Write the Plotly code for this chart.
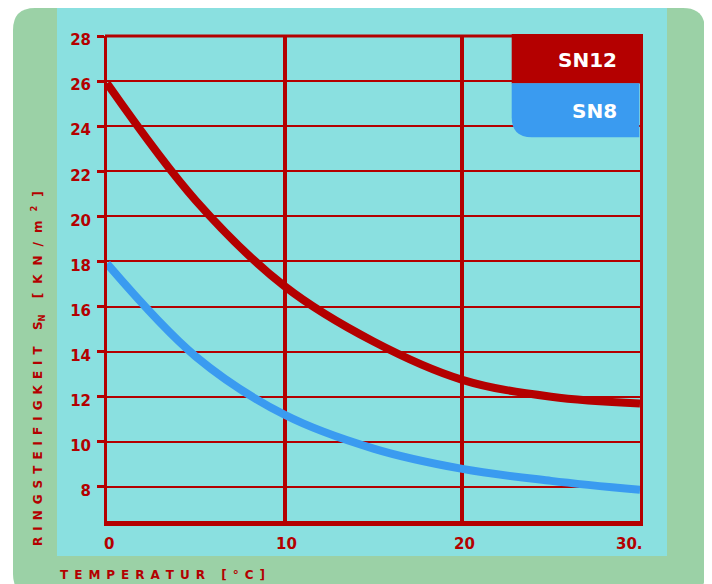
import plotly.graph_objects as go

# ---------------- data ----------------
temperature = [0, 5, 10, 15, 20, 25, 30]
sn12 = [25.9, 20.7, 16.9, 14.45, 12.75, 12.0, 11.7]
sn8 = [17.9, 13.78, 11.2, 9.7, 8.8, 8.27, 7.87]
series_names = ["SN12", "SN8"]
y_tick_vals = [8, 10, 12, 14, 16, 18, 20, 22, 24, 26, 28]
x_tick_vals = [0, 10, 20, 30]
x_tick_text = ["0", "10", "20", "30."]
x_title_text = "TEMPERATUR [°C]"
y_title_parts = ["RINGSTEIFIGKEIT", "S", "N", "[KN/m", "2", "]"]

# ---------------- styling ----------------
RED = "#B40000"
BLUE = "#3A9BF0"
GREEN = "#9BD1A6"
CYAN = "#8AE0E0"
FONT = "DejaVu Sans"

OFF = 8  # page offset of the figure inside the window
W, H = 704, 576
L, R, T, B = 99, 72, 28, 63
PW = W - L - R
PH = H - T - B


def px(x):
    """screen x pixel -> paper x"""
    return (x - OFF - L) / PW


def py(y):
    """screen y pixel -> paper y"""
    return (H - B - (y - OFF)) / PH


def rounded_path(x0, y0, x1, y1, r_tl=0, r_tr=0, r_br=0, r_bl=0):
    def p(x, y):
        return f"{px(x):.5f},{py(y):.5f}"
    d = f"M{p(x0 + r_tl, y0)} L{p(x1 - r_tr, y0)} "
    if r_tr:
        d += f"Q{p(x1, y0)} {p(x1, y0 + r_tr)} "
    d += f"L{p(x1, y1 - r_br)} "
    if r_br:
        d += f"Q{p(x1, y1)} {p(x1 - r_br, y1)} "
    d += f"L{p(x0 + r_bl, y1)} "
    if r_bl:
        d += f"Q{p(x0, y1)} {p(x0, y1 - r_bl)} "
    d += f"L{p(x0, y0 + r_tl)} "
    if r_tl:
        d += f"Q{p(x0, y0)} {p(x0 + r_tl, y0)} "
    return d + "Z"


sp = "\u2002"          # en space for letter spacing
sp_wide = "\u2002\u2005"  # wider letter spacing for the unit part


def spaced(s, gap=sp):
    return gap.join(s)


fig = go.Figure()
fig.add_trace(go.Scatter(x=temperature, y=sn12, mode="lines", name=series_names[0],
                         line=dict(color=RED, width=8, shape="spline", smoothing=1.0),
                         hoverinfo="x+y"))
fig.add_trace(go.Scatter(x=temperature, y=sn8, mode="lines", name=series_names[1],
                         line=dict(color=BLUE, width=8, shape="spline", smoothing=1.0),
                         hoverinfo="x+y"))

shapes = [
    # outer green rounded panel
    dict(type="path", xref="paper", yref="paper", layer="below",
         path=rounded_path(13, 8, 705, 596, 22, 22, 22, 22),
         fillcolor=GREEN, line=dict(width=0)),
    # cyan panel
    dict(type="rect", xref="paper", yref="paper", layer="below",
         x0=px(57), x1=px(667), y0=py(8), y1=py(556),
         fillcolor=CYAN, line=dict(width=0)),
    # top frame line
    dict(type="line", xref="paper", yref="paper", layer="above",
         x0=px(105), x1=px(643), y0=1, y1=1,
         line=dict(color=RED, width=3)),
    # legend boxes
    dict(type="rect", xref="paper", yref="paper", layer="above",
         x0=px(511.7), x1=px(643), y0=py(34), y1=py(83.5),
         fillcolor=RED, line=dict(width=0)),
    dict(type="path", xref="paper", yref="paper", layer="above",
         path=rounded_path(511.7, 83.3, 639.3, 137.3, 0, 0, 0, 20),
         fillcolor=BLUE, line=dict(width=0)),
]

annotations = []
# x tick labels
for v, t in zip(x_tick_vals, x_tick_text):
    last = v == x_tick_vals[-1]
    annotations.append(dict(x=v, y=py(543.5), xref="x", yref="paper", text=t,
                            showarrow=False, xanchor="right" if last else "center",
                            yanchor="middle", xshift=5 if last else 2,
                            font=dict(family=FONT, size=15, color=RED, weight="bold")))
# axis titles
annotations.append(dict(x=px(58), y=py(574.5), xref="paper", yref="paper",
                        text=spaced(x_title_text), showarrow=False,
                        xanchor="left", yanchor="middle",
                        font=dict(family=FONT, size=12, color=RED, weight="bold")))
y_title = (spaced(y_title_parts[0]) + sp + " " + sp + y_title_parts[1]
           + "<sub>" + y_title_parts[2] + "</sub>" + sp + " " + sp
           + spaced(y_title_parts[3], sp_wide) + sp_wide + "<sup>" + y_title_parts[4]
           + "</sup>" + sp_wide + y_title_parts[5])
annotations.append(dict(x=px(37.5), y=py(548), xref="paper", yref="paper",
                        text=y_title, showarrow=False, textangle=-90,
                        xanchor="center", yanchor="bottom",
                        font=dict(family=FONT, size=12, color=RED, weight="bold")))
# legend labels
for name, yc in zip(series_names, [60, 111]):
    annotations.append(dict(x=px(619), y=py(yc), xref="paper", yref="paper",
                            text=name, showarrow=False, xanchor="right", yanchor="middle",
                            font=dict(family=FONT, size=20, color="white", weight="bold")))

fig.update_layout(
    width=W, height=H,
    margin=dict(l=L, r=R, t=T, b=B, pad=0),
    paper_bgcolor="white",
    plot_bgcolor="rgba(0,0,0,0)",
    showlegend=False,
    shapes=shapes,
    annotations=annotations,
    xaxis=dict(range=[0, 30], tickvals=x_tick_vals, showticklabels=False,
               showgrid=True, gridcolor=RED, gridwidth=4, zeroline=False,
               showline=True, linecolor=RED, linewidth=5, ticks="", fixedrange=True),
    yaxis=dict(range=[6.49, 28], tickvals=y_tick_vals, showgrid=True, gridcolor=RED,
               gridwidth=2, zeroline=False, showline=True, linecolor=RED, linewidth=3,
               mirror=True, ticks="outside", ticklen=7, tickwidth=3, tickcolor=RED,
               ticklabelstandoff=3, ticklabelshift=4,
               tickfont=dict(family=FONT, size=15, color=RED, weight="bold"),
               fixedrange=True),
)

fig.write_html("out.html")
